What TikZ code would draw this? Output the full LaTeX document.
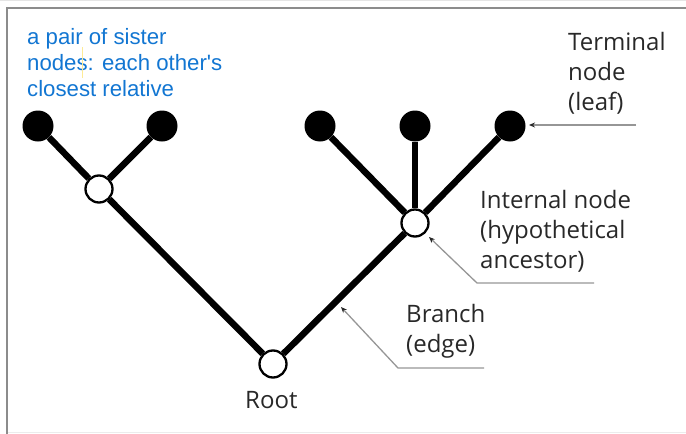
\documentclass[tikz,border=0pt]{standalone}
\usepackage{fontspec}
\setmainfont{Liberation Sans}
\newfontfamily\notefont{Liberation Sans}[Ligatures=ResetAll]
\newfontfamily\labelfont{Open Sans}
\usetikzlibrary{arrows.meta}
\definecolor{noteblue}{RGB}{18,118,210}
\definecolor{labelgray}{RGB}{40,40,40}
\definecolor{leadergray}{RGB}{150,150,150}
\definecolor{framegray}{RGB}{140,140,140}
\begin{document}
\begin{tikzpicture}[x=1pt,y=-1pt,
  leaf/.style={circle,fill=black,inner sep=0pt,minimum size=31pt},
  inner/.style={circle,draw=black,fill=white,line width=2.3pt,inner sep=0pt,minimum size=27pt},
  edge/.style={line width=6.5pt,black},
  leader/.style={draw=leadergray,line width=1.3pt,-{Stealth[length=6pt,width=5pt,color=labelgray]}},
  caption/.style={font=\labelfont\fontsize{24}{30}\selectfont,text=labelgray,align=left,inner sep=0pt},
  note/.style={font=\notefont\fontsize{22.2}{26}\selectfont,text=noteblue,align=left,inner sep=0pt}]
\useasboundingbox (0,0) rectangle (686,434);
% frame
\draw[gray!20,line width=1pt] (0,0.5) -- (686,0.5);
\draw[framegray,line width=2pt] (6,7.5) -- (686,7.5);
\draw[framegray,line width=2pt] (7,7.5) -- (7,434);
\draw[gray!15,line width=1.5pt] (8,432.5) -- (686,432.5);

% tree nodes
\node[leaf] (l1) at (38,126) {};
\node[leaf] (l2) at (162,126) {};
\node[leaf] (l3) at (320,126) {};
\node[leaf] (l4) at (415,126) {};
\node[leaf] (l5) at (510,126) {};
\node[inner] (a) at (99,189) {};
\node[inner] (b) at (415,223) {};
\node[inner] (root) at (273,364) {};

% branches
\draw[edge] (l1) -- (a);
\draw[edge] (l2) -- (a);
\draw[edge] (a) -- (root);
\draw[edge] (l3) -- (b);
\draw[edge] (l4) -- (b);
\draw[edge] (l5) -- (b);
\draw[edge] (b) -- (root);

% labels (base anchor sits on the last line)
\node[note,anchor=base west] (sister) at (27,96)
  {a pair of sister\\nodes: each other's\\closest relative};
\draw[yellow!70!orange!40,line width=0.8pt] (82,47) -- (82,78);
\node[caption,anchor=base west] (term) at (568,110) {Terminal\\node\\(leaf)};
\node[caption,anchor=base west] (intl) at (480,268) {Internal node\\(hypothetical\\ancestor)};
\node[caption,anchor=base west] (branch) at (406,352) {Branch\\(edge)};
\node[caption,anchor=base west] (rootlbl) at (245,408) {Root};

% leader lines
\coordinate (termend) at (636,125);
\coordinate (termtip) at (529,125);
\draw[leader] (termend) -- (termtip);
\coordinate (intlend) at (594,283);
\coordinate (intlbend) at (477,283);
\coordinate (intltip) at (429,237);
\draw[leader] (intlend) -- (intlbend) -- (intltip);
\coordinate (brend) at (484,368);
\coordinate (brbend) at (398,368);
\coordinate (brtip) at (341,307);
\draw[leader] (brend) -- (brbend) -- (brtip);
\end{tikzpicture}
\end{document}
